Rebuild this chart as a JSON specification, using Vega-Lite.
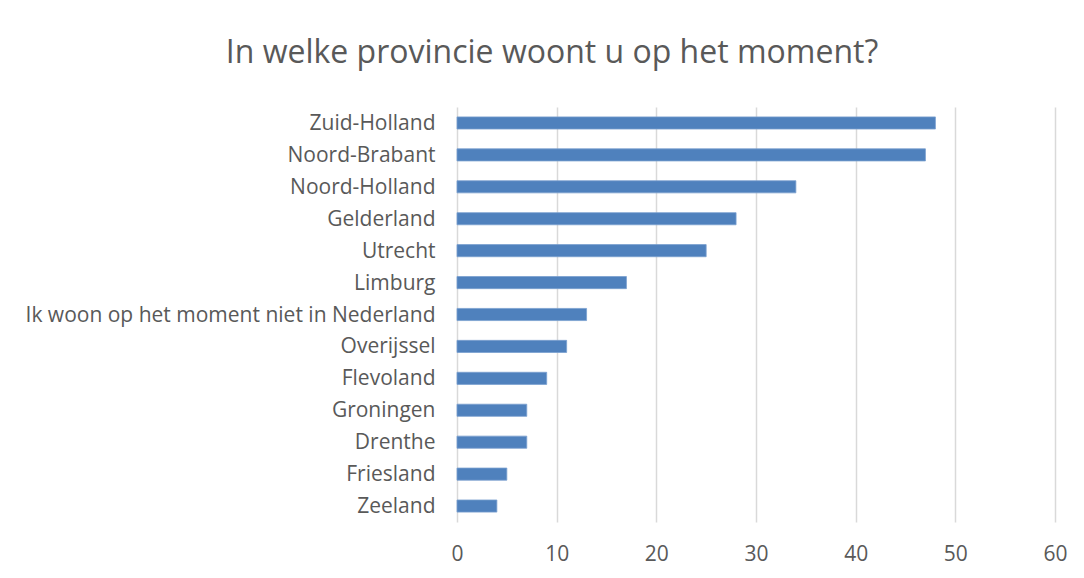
{
  "$schema": "https://vega.github.io/schema/vega-lite/v6.json",
  "autosize": "none",
  "width": 598,
  "height": 415,
  "padding": {"left": 457, "top": 107, "right": 29, "bottom": 56},
  "background": "white",
  "title": {
    "text": "In welke provincie woont u op het moment?",
    "anchor": "middle",
    "frame": "group",
    "dx": -204,
    "offset": 37,
    "fontSize": 32,
    "font": "Open Sans",
    "fontWeight": "normal",
    "color": "#595959"
  },
  "data": {
    "values": [
      {"provincie": "Zuid-Holland", "aantal": 48},
      {"provincie": "Noord-Brabant", "aantal": 47},
      {"provincie": "Noord-Holland", "aantal": 34},
      {"provincie": "Gelderland", "aantal": 28},
      {"provincie": "Utrecht", "aantal": 25},
      {"provincie": "Limburg", "aantal": 17},
      {"provincie": "Ik woon op het moment niet in Nederland", "aantal": 13},
      {"provincie": "Overijssel", "aantal": 11},
      {"provincie": "Flevoland", "aantal": 9},
      {"provincie": "Groningen", "aantal": 7},
      {"provincie": "Drenthe", "aantal": 7},
      {"provincie": "Friesland", "aantal": 5},
      {"provincie": "Zeeland", "aantal": 4}
    ]
  },
  "mark": {"type": "bar", "color": "#4f81bd", "stroke": "#7aa0cf", "strokeWidth": 0.8},
  "encoding": {
    "y": {
      "field": "provincie",
      "type": "nominal",
      "sort": null,
      "scale": {"paddingInner": 0.62, "paddingOuter": 0.31},
      "axis": {
        "title": null,
        "domain": false,
        "ticks": false,
        "labelFont": "Open Sans",
        "labelFontSize": 21,
        "labelColor": "#595959",
        "labelPadding": 22,
        "labelOffset": 1,
        "labelLimit": 500
      }
    },
    "x": {
      "field": "aantal",
      "type": "quantitative",
      "scale": {"domain": [0, 60]},
      "axis": {
        "title": null,
        "domain": false,
        "ticks": false,
        "values": [0, 10, 20, 30, 40, 50, 60],
        "grid": true,
        "gridColor": "#d9d9d9",
        "gridWidth": 1.5,
        "labelFlush": false,
        "labelFont": "Open Sans",
        "labelFontSize": 21,
        "labelColor": "#595959",
        "labelPadding": 21
      }
    }
  },
  "config": {"view": {"stroke": null}}
}
